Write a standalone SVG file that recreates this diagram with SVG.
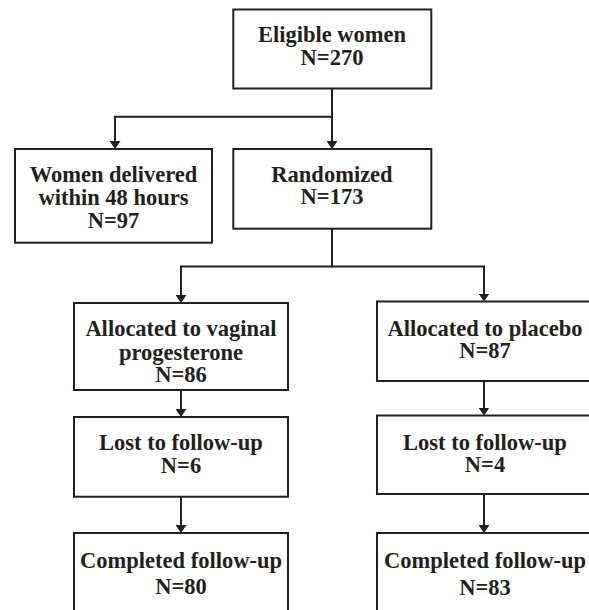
<svg xmlns="http://www.w3.org/2000/svg" width="589" height="610" viewBox="0 0 589 610">
<style>
.box{fill:#fff;stroke:#231f20;stroke-width:2}
.t{font-family:"Liberation Serif","Times New Roman",serif;font-weight:bold;font-size:22.5px;fill:#231f20;text-anchor:middle}
.c{fill:none;stroke:#231f20;stroke-width:2}
</style>
<defs>
<marker id="ah" markerUnits="userSpaceOnUse" markerWidth="8" markerHeight="11" viewBox="0 0 8 11" refX="4" refY="5.5" orient="auto">
<path d="M0,0 L8,5.5 L0,11 z" fill="#231f20"/>
</marker>
</defs>
<rect width="589" height="610" fill="#fff"/>
<g id="connectors">
<path class="c" d="M332,88.5 V116.7 H115 V145" marker-end="url(#ah)"/>
<path class="c" d="M332,116.7 V145" marker-end="url(#ah)"/>
<path class="c" d="M332,228.7 V266.5 H181 V299" marker-end="url(#ah)"/>
<path class="c" d="M332,266.5 H484 V297.5" marker-end="url(#ah)"/>
<path class="c" d="M181,390 V413" marker-end="url(#ah)"/>
<path class="c" d="M484,381 V411.5" marker-end="url(#ah)"/>
<path class="c" d="M181,496.7 V529" marker-end="url(#ah)"/>
<path class="c" d="M484,494 V529" marker-end="url(#ah)"/>
</g>
<g id="eligible">
<rect class="box" x="233.3" y="9.5" width="198" height="79"/>
<text class="t" x="332" y="41.7">Eligible women</text>
<text class="t" x="332" y="65">N=270</text>
</g>
<g id="delivered">
<rect class="box" x="15" y="149" width="197" height="93.7"/>
<text class="t" x="113.5" y="182">Women delivered</text>
<text class="t" x="113.5" y="204.5">within 48 hours</text>
<text class="t" x="113.5" y="227.5">N=97</text>
</g>
<g id="randomized">
<rect class="box" x="233.3" y="149" width="198" height="79.7"/>
<text class="t" x="332" y="181.7">Randomized</text>
<text class="t" x="332" y="204">N=173</text>
</g>
<g id="alloc-progesterone">
<rect class="box" x="74" y="303" width="214" height="87"/>
<text class="t" x="181" y="336">Allocated to vaginal</text>
<text class="t" x="181" y="360">progesterone</text>
<text class="t" x="181" y="382">N=86</text>
</g>
<g id="alloc-placebo">
<rect class="box" x="377" y="301.5" width="216" height="79.5"/>
<text class="t" x="485" y="336">Allocated to placebo</text>
<text class="t" x="485" y="357.5">N=87</text>
</g>
<g id="lost-progesterone">
<rect class="box" x="74" y="417" width="214" height="79.7"/>
<text class="t" x="181" y="450">Lost to follow-up</text>
<text class="t" x="181" y="472.7">N=6</text>
</g>
<g id="lost-placebo">
<rect class="box" x="377" y="415.5" width="216" height="78.5"/>
<text class="t" x="485" y="450">Lost to follow-up</text>
<text class="t" x="485" y="471.7">N=4</text>
</g>
<g id="completed-progesterone">
<rect class="box" x="74" y="533" width="214" height="90"/>
<text class="t" x="181" y="568.3">Completed follow-up</text>
<text class="t" x="181" y="594.3">N=80</text>
</g>
<g id="completed-placebo">
<rect class="box" x="377" y="533" width="216" height="90"/>
<text class="t" x="485" y="568.3">Completed follow-up</text>
<text class="t" x="485" y="594.8">N=83</text>
</g>
</svg>
